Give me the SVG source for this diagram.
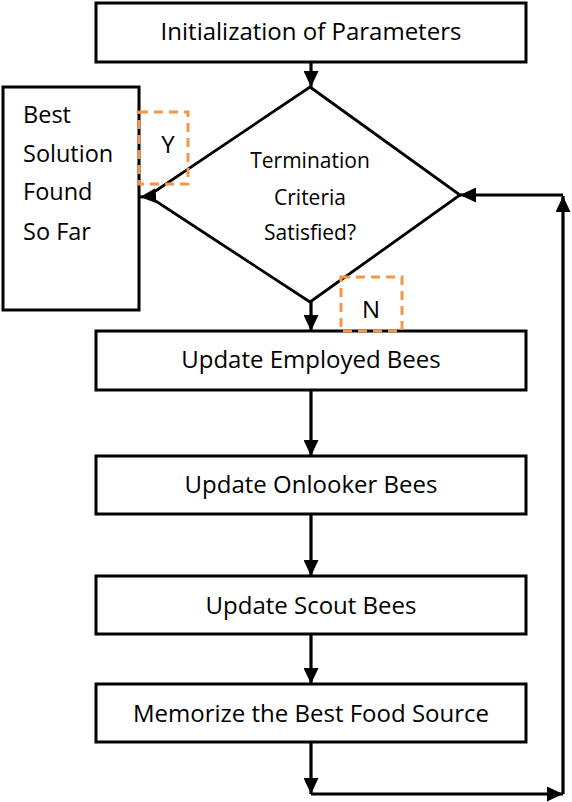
<svg xmlns="http://www.w3.org/2000/svg" width="572" height="802" viewBox="0 0 572 802">
<defs>
<marker id="ah" markerUnits="userSpaceOnUse" markerWidth="16" markerHeight="15" refX="16" refY="7.5" orient="auto" viewBox="0 0 16 15">
<path d="M0,0 L16,7.5 L0,15 z" fill="#000"/>
</marker>
</defs>
<style>
.box{fill:#fff;stroke:#000;stroke-width:3}
.dia{fill:#fff;stroke:#000;stroke-width:2.8}
.t{font-family:"Open Sans","Noto Sans",sans-serif;font-size:24px;fill:#000}
.tc{text-anchor:middle}
.bt{font-family:"Open Sans","Noto Sans",sans-serif;font-size:23.5px;fill:#000}
.dt{font-family:"Open Sans","Noto Sans",sans-serif;font-size:21px;fill:#000;text-anchor:middle}
.lab{fill:none;stroke:#F79646;stroke-width:3;stroke-dasharray:9,6}
.c{fill:none;stroke:#000;stroke-width:3.2;marker-end:url(#ah)}
</style>
<rect width="572" height="802" fill="#fff"/>
<g id="init">
<rect class="box" x="96" y="3" width="430" height="59"/>
<text class="t tc" x="311" y="40">Initialization of Parameters</text>
</g>
<g id="best">
<rect class="box" x="3" y="87" width="136" height="223"/>
<text class="bt" x="23" y="123">Best</text>
<text class="bt" x="23" y="162">Solution</text>
<text class="bt" x="23" y="200">Found</text>
<text class="bt" x="23" y="240">So Far</text>
</g>
<g id="decision">
<polygon class="dia" points="310,87 460,195 310,302 148,196"/>
<text class="dt" x="310" y="168">Termination</text>
<text class="dt" x="310" y="205">Criteria</text>
<text class="dt" x="310" y="240">Satisfied?</text>
</g>
<g id="employed">
<rect class="box" x="96" y="331" width="430" height="59"/>
<text class="t tc" x="311" y="368">Update Employed Bees</text>
</g>
<g id="onlooker">
<rect class="box" x="96" y="456" width="430" height="58"/>
<text class="t tc" x="311" y="493">Update Onlooker Bees</text>
</g>
<g id="scout">
<rect class="box" x="96" y="576" width="430" height="58"/>
<text class="t tc" x="311" y="614">Update Scout Bees</text>
</g>
<g id="memorize">
<rect class="box" x="96" y="684" width="430" height="58"/>
<text class="t tc" x="311" y="722">Memorize the Best Food Source</text>
</g>
<g id="connectors">
<path class="c" d="M311,62 L311,87"/>
<path class="c" d="M152,196 L140,197"/>
<path class="c" d="M311,302 L311,331"/>
<path class="c" d="M311,390 L311,456"/>
<path class="c" d="M311,514 L311,576"/>
<path class="c" d="M311,634 L311,684"/>
<path class="c" d="M311,742 L311,794"/>
<path class="c" d="M311,794 L563,794"/>
<path class="c" d="M563,794 L563,196"/>
<path class="c" d="M563,195 L460,195"/>
</g>
<g id="labelY">
<rect class="lab" x="139" y="112" width="49" height="72"/>
<text class="t tc" x="168" y="153">Y</text>
</g>
<g id="labelN">
<rect class="lab" x="341" y="277" width="61" height="54"/>
<text class="t tc" x="371" y="318">N</text>
</g>
</svg>
